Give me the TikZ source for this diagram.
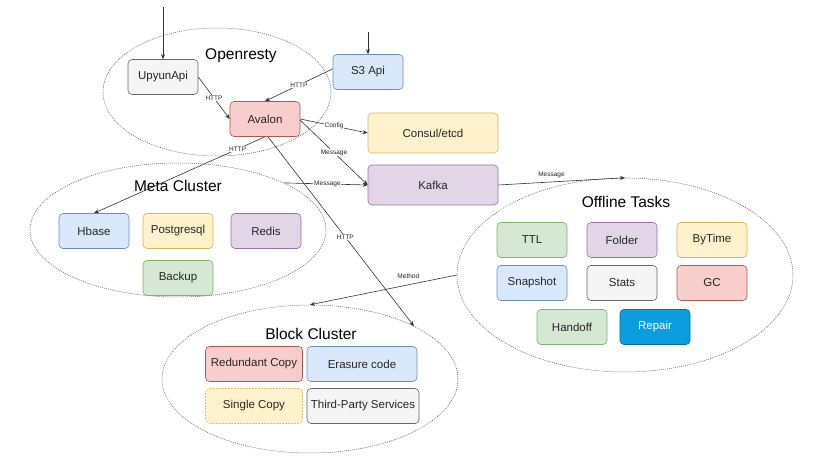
\documentclass[tikz,border=0pt]{standalone}
\usepackage{fontspec}
\setmainfont{Liberation Sans}
\usetikzlibrary{shapes.geometric,arrows.meta}
\definecolor{gfill}{HTML}{F5F5F5}\definecolor{gdraw}{HTML}{666666}
\definecolor{bfill}{HTML}{DAE8FC}\definecolor{bdraw}{HTML}{6C8EBF}
\definecolor{rfill}{HTML}{F8CECC}\definecolor{rdraw}{HTML}{B85450}
\definecolor{yfill}{HTML}{FFF2CC}\definecolor{ydraw}{HTML}{D6B656}
\definecolor{pfill}{HTML}{E1D5E7}\definecolor{pdraw}{HTML}{9673A6}
\definecolor{nfill}{HTML}{D5E8D4}\definecolor{ndraw}{HTML}{82B366}
\definecolor{repfill}{HTML}{0A9EE0}\definecolor{repdraw}{HTML}{006EAF}
\definecolor{linec}{HTML}{333333}
\begin{document}
\begin{tikzpicture}[x=1pt,y=-1pt,
  box/.style={draw, rounded corners=4pt, line width=0.6pt, minimum width=70pt, minimum height=35pt,
    inner sep=1pt, font=\fontsize{11.5}{13}\selectfont, text=black!85},
  gbox/.style={box, fill=gfill, draw=gdraw},
  bbox/.style={box, fill=bfill, draw=bdraw},
  rbox/.style={box, fill=rfill, draw=rdraw},
  ybox/.style={box, fill=yfill, draw=ydraw},
  pbox/.style={box, fill=pfill, draw=pdraw},
  nbox/.style={box, fill=nfill, draw=ndraw},
  cluster/.style={ellipse, draw=black!65, line width=0.5pt, dash pattern=on 1pt off 1pt, inner sep=0pt},
  title/.style={font=\fontsize{15.5}{18}\selectfont, text=black},
  conn/.style={draw=linec, line width=0.6pt, -{Stealth[length=5pt,width=4pt]}},
  lab/.style={font=\fontsize{6.5}{7}\selectfont, fill=white, inner sep=0.8pt, text=black!85},
  toplab/.style={font=\fontsize{6.5}{7}\selectfont, inner sep=0.8pt, text=black!85}
]
\useasboundingbox (0,0) rectangle (831,468);
\fill[white] (0,0) rectangle (831,468);

% clusters
\node[cluster, minimum width=228pt, minimum height=128pt] (open) at (217,92) {};
\node[cluster, minimum width=296pt, minimum height=134pt] (meta) at (178,230) {};
\node[cluster, minimum width=296pt, minimum height=148pt] (block) at (310,379) {};
\node[cluster, minimum width=336pt, minimum height=194pt] (offline) at (625,275) {};

\node[title] (topen) at (241,56) {Openresty};
\node[title] (tmeta) at (178,186) {Meta Cluster};
\node[title] (tblock) at (311,334) {Block Cluster};
\node[title] (toff) at (626,202) {Offline Tasks};

% Openresty
\node[gbox] (upyun) at (163,77) {UpyunApi};
\node[bbox] (s3) at (368,72) {S3 Api};
\node[rbox] (avalon) at (265,119) {Avalon};
\node[ybox, minimum width=130pt, minimum height=40pt] (consul) at (433,133) {Consul/etcd};
\node[pbox, minimum width=130pt, minimum height=40pt] (kafka) at (433,185) {Kafka};

% Meta cluster
\node[bbox] (hbase) at (94,231) {Hbase};
\node[ybox] (pg) at (178,231) {Postgresql};
\node[pbox] (redis) at (266,231) {Redis};
\node[nbox] (backup) at (178,278) {Backup};

% Block cluster
\node[rbox, minimum width=97pt] (redund) at (254,364) {Redundant Copy};
\node[bbox, minimum width=110pt] (erasure) at (362,364) {Erasure code};
\node[ybox, minimum width=97pt, dash pattern=on 1.5pt off 1.5pt] (single) at (254,406) {Single Copy};
\node[gbox, minimum width=112pt] (third) at (363,406) {Third-Party Services};

% Offline tasks
\node[nbox] (ttl) at (532,240) {TTL};
\node[pbox] (folder) at (622,240) {Folder};
\node[ybox] (bytime) at (712,240) {ByTime};
\node[bbox] (snap) at (532,283) {Snapshot};
\node[gbox] (stats) at (622,283) {Stats};
\node[rbox] (gc) at (712,283) {GC};
\node[nbox] (handoff) at (572,327) {Handoff};
\node[box, fill=repfill, draw=repdraw, text=white] (repair) at (655,327) {Repair};

% connectors
\coordinate (inup) at (163,7);
\coordinate (ins3) at (368,32);
\draw[conn] (inup) -- (upyun.north);
\draw[conn] (ins3) -- (s3.north);
\draw[conn] (upyun.east) -- node[lab, pos=0.5] {HTTP} (avalon.west);
\draw[conn] (s3.175) -- node[lab, pos=0.5] {HTTP} (avalon.north);
\draw[conn] (avalon.east) -- node[lab, pos=0.5] {Config} (consul.west);
\draw[conn] (avalon.358) -- node[lab, pos=0.5] {Message} (kafka.west);
\draw[conn] (avalon.south) -- node[lab, pos=0.16] {HTTP} (hbase.north);
\draw[conn] ([xshift=3pt]avalon.south) -- node[lab, pos=0.53] {HTTP} (block.27);
\draw[conn] (meta.24) -- node[lab, pos=0.52] {Message} (kafka.west);
\draw[conn] (kafka.east) -- node[toplab, pos=0.42, above=3pt] {Message} (offline.north);
\draw[conn] (offline.west) -- node[toplab, pos=0.33, above=5pt] {Method} (block.north);
\end{tikzpicture}
\end{document}
